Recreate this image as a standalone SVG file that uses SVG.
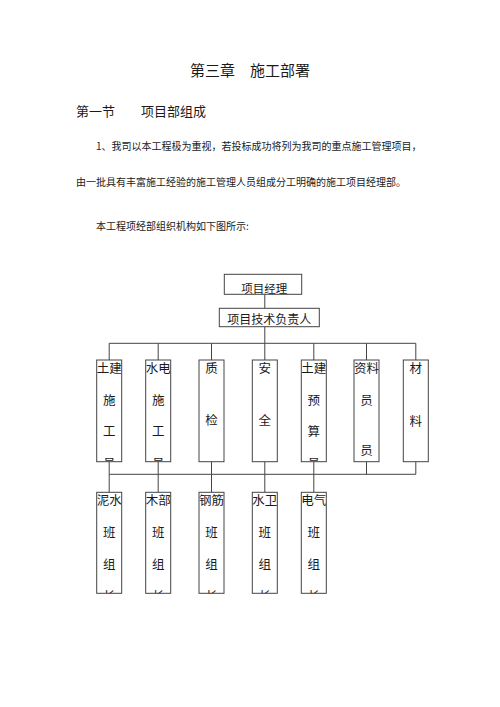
<svg xmlns="http://www.w3.org/2000/svg" width="500" height="707" viewBox="0 0 500 707">
<style>
text{font-family:"Noto Sans CJK SC","Liberation Sans",sans-serif;fill:#1a1a1a}
.t{font-size:15px}
.s{font-size:13px}
.p{font-size:10px}
.c{font-size:12.5px;text-anchor:middle}
.box{fill:#fff;stroke:#444;stroke-width:1}
.ln{fill:none;stroke:#444;stroke-width:1}
</style>
<defs>
<clipPath id="cu1"><rect x="96.7" y="360" width="25" height="101.7"/></clipPath>
<clipPath id="cu2"><rect x="145.7" y="360" width="25" height="101.7"/></clipPath>
<clipPath id="cu5"><rect x="301.3" y="360" width="25" height="101.7"/></clipPath>
<clipPath id="cl1"><rect x="96.7" y="492.3" width="25" height="101"/></clipPath>
<clipPath id="cl2"><rect x="145.7" y="492.3" width="25" height="101"/></clipPath>
<clipPath id="cl3"><rect x="199" y="492.3" width="25" height="101"/></clipPath>
<clipPath id="cl4"><rect x="252.3" y="492.3" width="25" height="101"/></clipPath>
<clipPath id="cl5"><rect x="301.3" y="492.3" width="25" height="101"/></clipPath>
<clipPath id="cm"><rect x="224.3" y="274.3" width="77.4" height="20"/></clipPath>
</defs>
<rect width="500" height="707" fill="#fff"/>
<text class="t" x="190" y="76.4">第三章　施工部署</text>
<text class="s" x="76" y="115.6">第一节　　项目部组成</text>
<text class="p" x="96" y="149.5">1、我司以本工程极为重视，若投标成功将列为我司的重点施工管理项目，</text>
<text class="p" x="76" y="185.5">由一批具有丰富施工经验的施工管理人员组成分工明确的施工项目经理部。</text>
<text class="p" x="96" y="229.5">本工程项经部组织机构如下图所示:</text>
<g id="connectors">
<path class="ln" d="M264.8 294.3V308.3M264.8 326.7V343.3M109.2 343.3H415.8"/>
<path class="ln" d="M109.2 343.3V360M158.2 343.3V360M211.5 343.3V360M264.8 343.3V360M313.8 343.3V360M366.5 343.3V360M415.8 343.3V360"/>
<path class="ln" d="M109.2 461.7V474.3M158.2 461.7V474.3M211.5 461.7V474.3M264.8 461.7V474.3M313.8 461.7V474.3M366.5 461.7V474.3M415.8 461.7V474.3M109.2 474.3H415.8"/>
<path class="ln" d="M109.2 474.3V492.3M158.2 474.3V492.3M211.5 474.3V492.3M264.8 474.3V492.3M313.8 474.3V492.3"/>
</g>
<g id="manager">
<rect class="box" x="224.3" y="274.3" width="77.4" height="20"/>
<text clip-path="url(#cm)" x="264.2" y="292.9" style="font-size:11.5px;text-anchor:middle">项目经理</text>
</g>
<g id="tech">
<rect class="box" x="219.3" y="308.3" width="100" height="18.4"/>
<text x="269.3" y="323.9" style="font-size:12px;text-anchor:middle">项目技术负责人</text>
</g>
<g id="u1">
<rect class="box" x="96.7" y="360" width="25" height="101.7"/>
<g clip-path="url(#cu1)"><text class="c" x="109.2" y="372.8">土建</text><text class="c" x="109.2" y="405.2">施</text><text class="c" x="109.2" y="436.2">工</text><text class="c" x="109.2" y="467.8">员</text></g>
</g>
<g id="u2">
<rect class="box" x="145.7" y="360" width="25" height="101.7"/>
<g clip-path="url(#cu2)"><text class="c" x="158.2" y="372.8">水电</text><text class="c" x="158.2" y="405.2">施</text><text class="c" x="158.2" y="436.2">工</text><text class="c" x="158.2" y="467.8">员</text></g>
</g>
<g id="u3">
<rect class="box" x="199" y="360" width="25" height="101.7"/>
<text class="c" x="211.5" y="372.8">质</text><text class="c" x="211.5" y="424.8">检</text>
</g>
<g id="u4">
<rect class="box" x="252.3" y="360" width="25" height="101.7"/>
<text class="c" x="264.8" y="372.8">安</text><text class="c" x="264.8" y="424.8">全</text>
</g>
<g id="u5">
<rect class="box" x="301.3" y="360" width="25" height="101.7"/>
<g clip-path="url(#cu5)"><text class="c" x="313.8" y="372.8">土建</text><text class="c" x="313.8" y="405.2">预</text><text class="c" x="313.8" y="436.2">算</text><text class="c" x="313.8" y="467.8">员</text></g>
</g>
<g id="u6">
<rect class="box" x="354" y="360" width="25" height="101.7"/>
<text class="c" x="366.5" y="372.8">资料</text><text class="c" x="366.5" y="405.2">员</text><text class="c" x="366.5" y="454.8">员</text>
</g>
<g id="u7">
<rect class="box" x="403.3" y="360" width="25" height="101.7"/>
<text class="c" x="415.8" y="372.8">材</text><text class="c" x="415.8" y="425.8">料</text>
</g>
<g id="l1">
<rect class="box" x="96.7" y="492.3" width="25" height="101"/>
<g clip-path="url(#cl1)"><text class="c" x="109.2" y="504.8">泥水</text><text class="c" x="109.2" y="536.5">班</text><text class="c" x="109.2" y="568.8">组</text><text class="c" x="109.2" y="600.8">长</text></g>
</g>
<g id="l2">
<rect class="box" x="145.7" y="492.3" width="25" height="101"/>
<g clip-path="url(#cl2)"><text class="c" x="158.2" y="504.8">木部</text><text class="c" x="158.2" y="536.5">班</text><text class="c" x="158.2" y="568.8">组</text><text class="c" x="158.2" y="600.8">长</text></g>
</g>
<g id="l3">
<rect class="box" x="199" y="492.3" width="25" height="101"/>
<g clip-path="url(#cl3)"><text class="c" x="211.5" y="504.8">钢筋</text><text class="c" x="211.5" y="536.5">班</text><text class="c" x="211.5" y="568.8">组</text><text class="c" x="211.5" y="600.8">长</text></g>
</g>
<g id="l4">
<rect class="box" x="252.3" y="492.3" width="25" height="101"/>
<g clip-path="url(#cl4)"><text class="c" x="264.8" y="504.8">水卫</text><text class="c" x="264.8" y="536.5">班</text><text class="c" x="264.8" y="568.8">组</text><text class="c" x="264.8" y="600.8">长</text></g>
</g>
<g id="l5">
<rect class="box" x="301.3" y="492.3" width="25" height="101"/>
<g clip-path="url(#cl5)"><text class="c" x="313.8" y="504.8">电气</text><text class="c" x="313.8" y="536.5">班</text><text class="c" x="313.8" y="568.8">组</text><text class="c" x="313.8" y="600.8">长</text></g>
</g>
</svg>
